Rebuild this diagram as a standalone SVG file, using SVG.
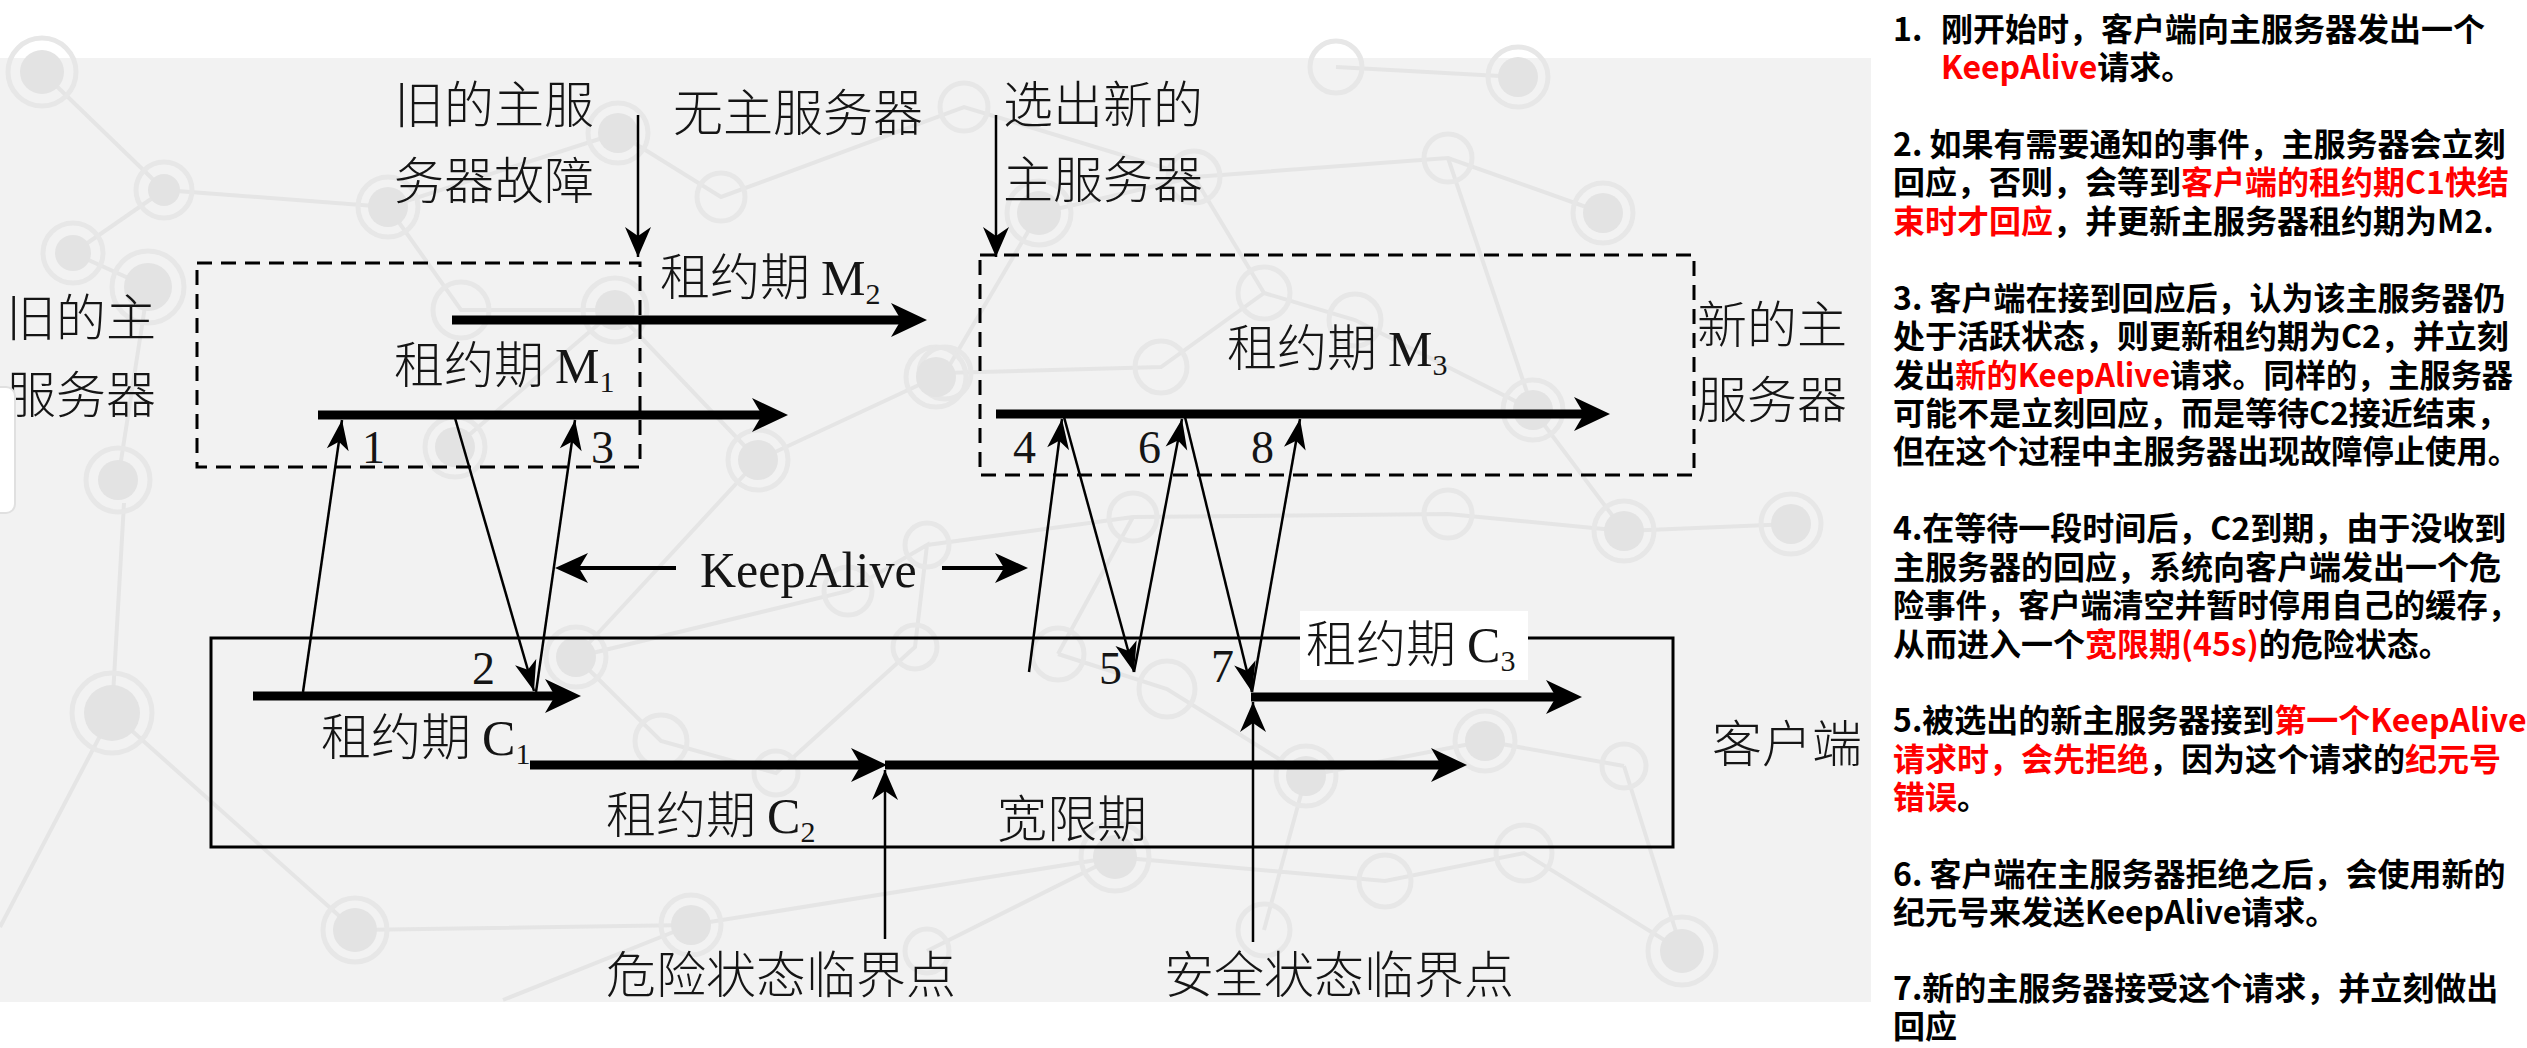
<svg xmlns="http://www.w3.org/2000/svg" width="2527" height="1048" viewBox="0 0 2527 1048">
<style>
.cjk{font-family:"Noto Sans CJK SC","Noto Sans CJK JP",sans-serif;font-size:50px;font-weight:300;fill:#151515}
.ser{font-family:"Liberation Serif",serif}
.sub{font-family:"Liberation Serif",serif;font-size:30px}
.num{font-family:"Liberation Serif",serif;font-size:46px;fill:#151515}
.ka{font-family:"Liberation Serif",serif;font-size:50px;fill:#151515}
.note{font-family:"Noto Sans CJK SC",sans-serif;font-size:32px;font-weight:700;fill:#000}
.red{fill:#ff0000}
.thick{stroke:#000;stroke-width:9;fill:none}
.thin{stroke:#000;stroke-width:2.5;fill:none}
.med{stroke:#000;stroke-width:4;fill:none}
.dash{stroke:#000;stroke-width:3;fill:none;stroke-dasharray:15 9}
.solid{stroke:#000;stroke-width:3;fill:none}
.bgl{stroke:#e5e5e5;stroke-width:4;fill:none}
.bgr{stroke:#e7e7e7;stroke-width:5;fill:none}
.bgd{fill:#e3e3e3}
</style>
<defs>
<marker id="ahThick" viewBox="-12 -20 40 40" markerWidth="40" markerHeight="40" refX="0" refY="0" orient="auto" markerUnits="userSpaceOnUse"><path d="M26,0 L-10,-17 L0,0 L-10,17 Z" fill="#000"/></marker>
<marker id="ahMed" viewBox="-11 -17 37 34" markerWidth="37" markerHeight="34" refX="0" refY="0" orient="auto" markerUnits="userSpaceOnUse"><path d="M24,0 L-9,-15 L0,0 L-9,15 Z" fill="#000"/></marker>
<marker id="ahThin" viewBox="-32 -13 34 26" markerWidth="34" markerHeight="26" refX="0" refY="0" orient="auto" markerUnits="userSpaceOnUse"><path d="M0,0 L-30,-11 L-22,0 L-30,11 Z" fill="#000"/></marker>
<marker id="ahV" viewBox="-32 -15 34 30" markerWidth="34" markerHeight="30" refX="0" refY="0" orient="auto" markerUnits="userSpaceOnUse"><path d="M0,0 L-30,-13 L-21,0 L-30,13 Z" fill="#000"/></marker>
</defs>
<rect x="0" y="0" width="2527" height="1048" fill="#fff"/>
<rect x="0" y="58" width="1871" height="944" fill="#f2f2f2"/>
<g id="background">
<path class="bgl" d="M42,72 L164,190 L388,207 L618,133 L721,197 L964,107 L1194,177 L1448,158 L1603,213 M1336,67 L1518,77 M164,190 L73,253 L148,287 L118,480 M388,207 L461,310 L615,310 L758,460 L936,377 M455,447 L615,310 M1194,177 L1039,213 L945,373 L1161,367 L1264,293 L1194,177 M1264,293 L1355,320 L1533,410 L1448,158 M124,503 L112,713 L0,927 M112,713 L355,930 L691,925 L1115,857 L1385,881 L1524,853 L1682,951 M576,657 L661,741 L776,773 L915,647 L927,545 L848,591 L576,657 M927,545 L1133,517 L1448,514 L1624,531 L1791,524 M1058,654 L1167,689 L1306,776 L1485,741 L1624,766 M1133,517 L1058,654 M1264,930 L1306,776 M1624,766 L1682,951 M927,951 L1115,857 M503,1000 L691,925 M758,460 L576,657 M1533,410 L1624,531"/>
<g class="bgr">
<circle cx="42" cy="72" r="34"/><circle cx="164" cy="190" r="28"/><circle cx="73" cy="253" r="30"/><circle cx="148" cy="287" r="36"/><circle cx="388" cy="207" r="30"/><circle cx="618" cy="133" r="30"/><circle cx="721" cy="197" r="24"/><circle cx="615" cy="310" r="32"/><circle cx="461" cy="310" r="28"/><circle cx="758" cy="460" r="30"/><circle cx="936" cy="377" r="30"/><circle cx="118" cy="480" r="32"/><circle cx="455" cy="447" r="30"/><circle cx="964" cy="107" r="24"/><circle cx="1336" cy="67" r="26"/><circle cx="1518" cy="77" r="30"/><circle cx="1194" cy="177" r="26"/><circle cx="1448" cy="158" r="24"/><circle cx="1603" cy="213" r="30"/><circle cx="1039" cy="213" r="32"/><circle cx="1264" cy="293" r="26"/><circle cx="945" cy="373" r="26"/><circle cx="1161" cy="367" r="26"/><circle cx="1355" cy="320" r="26"/><circle cx="1533" cy="410" r="30"/><circle cx="112" cy="713" r="40"/><circle cx="576" cy="657" r="30"/><circle cx="661" cy="741" r="26"/><circle cx="776" cy="773" r="22"/><circle cx="915" cy="647" r="22"/><circle cx="927" cy="545" r="22"/><circle cx="848" cy="591" r="24"/><circle cx="355" cy="930" r="32"/><circle cx="691" cy="925" r="30"/><circle cx="1058" cy="654" r="26"/><circle cx="1167" cy="689" r="28"/><circle cx="1133" cy="517" r="24"/><circle cx="1448" cy="514" r="24"/><circle cx="1624" cy="531" r="30"/><circle cx="1791" cy="524" r="30"/><circle cx="1306" cy="776" r="30"/><circle cx="1485" cy="741" r="30"/><circle cx="1624" cy="766" r="22"/><circle cx="1115" cy="857" r="34"/><circle cx="1385" cy="881" r="26"/><circle cx="1524" cy="853" r="28"/><circle cx="1682" cy="951" r="34"/><circle cx="1264" cy="930" r="26"/><circle cx="927" cy="951" r="22"/>
</g>
<g class="bgd">
<circle cx="42" cy="72" r="22"/><circle cx="164" cy="190" r="16"/><circle cx="73" cy="253" r="18"/><circle cx="148" cy="287" r="24"/><circle cx="388" cy="207" r="20"/><circle cx="618" cy="133" r="20"/><circle cx="615" cy="310" r="20"/><circle cx="758" cy="460" r="20"/><circle cx="936" cy="377" r="20"/><circle cx="118" cy="480" r="20"/><circle cx="455" cy="447" r="20"/><circle cx="1518" cy="77" r="20"/><circle cx="1603" cy="213" r="20"/><circle cx="1039" cy="213" r="22"/><circle cx="1533" cy="410" r="20"/><circle cx="112" cy="713" r="28"/><circle cx="576" cy="657" r="20"/><circle cx="355" cy="930" r="22"/><circle cx="691" cy="925" r="20"/><circle cx="1624" cy="531" r="20"/><circle cx="1791" cy="524" r="20"/><circle cx="1306" cy="776" r="20"/><circle cx="1485" cy="741" r="20"/><circle cx="1115" cy="857" r="22"/><circle cx="1682" cy="951" r="22"/>
</g>
</g>

<g id="old-master">
<rect class="dash" x="197" y="263" width="443" height="204"/>
<text class="cjk" x="6" y="336">旧的主</text>
<text class="cjk" x="6" y="413">服务器</text>
</g>
<rect x="-10" y="387" width="25" height="126" rx="9" fill="#fff" stroke="#e0e0e0" stroke-width="2"/>
<g id="old-master-fail">
<text class="cjk" x="394" y="123">旧的主服</text>
<text class="cjk" x="394" y="199">务器故障</text>
</g>
<g id="no-master"><text class="cjk" x="673" y="131">无主服务器</text></g>
<g id="elect-new">
<text class="cjk" x="1003" y="123">选出新的</text>
<text class="cjk" x="1003" y="198">主服务器</text>
</g>
<g id="new-master">
<rect class="dash" x="980" y="255" width="714" height="220"/>
<text class="cjk" x="1697" y="343">新的主</text>
<text class="cjk" x="1697" y="418">服务器</text>
</g>
<g id="client">
<rect class="solid" x="211" y="638" width="1462" height="209"/>
<text class="cjk" x="1712" y="762">客户端</text>
</g>
<g id="lease-m1"><text class="cjk" x="394" y="383">租约期 <tspan class="ser">M</tspan><tspan class="sub" dy="9">1</tspan></text></g>
<g id="lease-m2"><text class="cjk" x="660" y="295">租约期 <tspan class="ser">M</tspan><tspan class="sub" dy="9">2</tspan></text></g>
<g id="lease-m3"><text class="cjk" x="1227" y="366">租约期 <tspan class="ser">M</tspan><tspan class="sub" dy="9">3</tspan></text></g>
<g id="lease-c1"><text class="cjk" x="321" y="755">租约期 <tspan class="ser">C</tspan><tspan class="sub" dy="9">1</tspan></text></g>
<g id="lease-c2"><text class="cjk" x="606" y="833">租约期 <tspan class="ser">C</tspan><tspan class="sub" dy="9">2</tspan></text></g>
<g id="lease-c3">
<rect x="1300" y="611" width="228" height="69" fill="#fff"/>
<text class="cjk" x="1306" y="662">租约期 <tspan class="ser">C</tspan><tspan class="sub" dy="9">3</tspan></text>
</g>
<g id="grace"><text class="cjk" x="997" y="837">宽限期</text></g>
<g id="danger-point"><text class="cjk" x="606" y="993">危险状态临界点</text></g>
<g id="safe-point"><text class="cjk" x="1164" y="993">安全状态临界点</text></g>
<g id="keepalive-label"><text class="ka" x="700" y="587">KeepAlive</text></g>
<g id="step-numbers">
<text class="num" x="362" y="463">1</text>
<text class="num" x="591" y="463">3</text>
<text class="num" x="472" y="684">2</text>
<text class="num" x="1013" y="463">4</text>
<text class="num" x="1138" y="463">6</text>
<text class="num" x="1251" y="463">8</text>
<text class="num" x="1099" y="684">5</text>
<text class="num" x="1211" y="682">7</text>
</g>

<g id="connectors">
<line class="thick" x1="452" y1="320" x2="901" y2="320" marker-end="url(#ahThick)"/>
<line class="thick" x1="318" y1="415" x2="762" y2="415" marker-end="url(#ahThick)"/>
<line class="thick" x1="996" y1="414" x2="1584" y2="414" marker-end="url(#ahThick)"/>
<line class="thick" x1="253" y1="696" x2="555" y2="696" marker-end="url(#ahThick)"/>
<line class="thick" x1="885" y1="765" x2="1441" y2="765" marker-end="url(#ahThick)"/>
<line class="thick" x1="530" y1="765" x2="861" y2="765" marker-end="url(#ahThick)"/>
<line class="thick" x1="1251" y1="697" x2="1556" y2="697" marker-end="url(#ahThick)"/>
<line class="thin" x1="638" y1="115" x2="638" y2="257" marker-end="url(#ahV)"/>
<line class="thin" x1="996" y1="115" x2="996" y2="257" marker-end="url(#ahV)"/>
<line class="thin" x1="885" y1="939" x2="885" y2="770" marker-end="url(#ahV)"/>
<line class="thin" x1="1253" y1="942" x2="1253" y2="702" marker-end="url(#ahV)"/>
<line class="thin" x1="303" y1="692" x2="342" y2="420" marker-end="url(#ahThin)"/>
<line class="thin" x1="455" y1="418" x2="534" y2="691" marker-end="url(#ahThin)"/>
<line class="thin" x1="536" y1="692" x2="575" y2="420" marker-end="url(#ahThin)"/>
<line class="thin" x1="1029" y1="672" x2="1062" y2="419" marker-end="url(#ahThin)"/>
<line class="thin" x1="1064" y1="417" x2="1134" y2="672" marker-end="url(#ahThin)"/>
<line class="thin" x1="1134" y1="672" x2="1182" y2="419" marker-end="url(#ahThin)"/>
<line class="thin" x1="1185" y1="417" x2="1252" y2="692" marker-end="url(#ahThin)"/>
<line class="thin" x1="1252" y1="692" x2="1300" y2="419" marker-end="url(#ahThin)"/>
<line class="med" x1="676" y1="568" x2="579" y2="568" marker-end="url(#ahMed)"/>
<line class="med" x1="942" y1="568" x2="1004" y2="568" marker-end="url(#ahMed)"/>
</g>

<g id="notes">
<text class="note" x="1893" y="40.5">1.<tspan x="1941">刚开始时，客户端向主服务器发出一个</tspan></text>
<text class="note" x="1941" y="79"><tspan class="red">KeepAlive</tspan>请求。</text>
<text class="note" x="1893" y="156">2. 如果有需要通知的事件，主服务器会立刻</text>
<text class="note" x="1893" y="194">回应，否则，会等到<tspan class="red">客户端的租约期C1快结</tspan></text>
<text class="note" x="1893" y="233"><tspan class="red">束时才回应</tspan>，并更新主服务器租约期为M2.</text>
<text class="note" x="1893" y="309.5">3. 客户端在接到回应后，认为该主服务器仍</text>
<text class="note" x="1893" y="348">处于活跃状态，则更新租约期为C2，并立刻</text>
<text class="note" x="1893" y="386.5" textLength="620" lengthAdjust="spacingAndGlyphs">发出<tspan class="red">新的KeepAlive</tspan>请求。同样的，主服务器</text>
<text class="note" x="1893" y="425">可能不是立刻回应，而是等待C2接近结束，</text>
<text class="note" x="1893" y="463" textLength="626" lengthAdjust="spacingAndGlyphs">但在这个过程中主服务器出现故障停止使用。</text>
<text class="note" x="1893" y="540">4.在等待一段时间后，C2到期，由于没收到</text>
<text class="note" x="1893" y="578.5">主服务器的回应，系统向客户端发出一个危</text>
<text class="note" x="1893" y="617" textLength="626" lengthAdjust="spacingAndGlyphs">险事件，客户端清空并暂时停用自己的缓存，</text>
<text class="note" x="1893" y="655.5">从而进入一个<tspan class="red">宽限期(45s)</tspan>的危险状态。</text>
<text class="note" x="1893" y="732">5.被选出的新主服务器接到<tspan class="red">第一个KeepAlive</tspan></text>
<text class="note" x="1893" y="770.5"><tspan class="red">请求时，会先拒绝</tspan>，因为这个请求的<tspan class="red">纪元号</tspan></text>
<text class="note" x="1893" y="809"><tspan class="red">错误</tspan>。</text>
<text class="note" x="1893" y="886">6. 客户端在主服务器拒绝之后，会使用新的</text>
<text class="note" x="1893" y="924">纪元号来发送KeepAlive请求。</text>
<text class="note" x="1893" y="1000">7.新的主服务器接受这个请求，并立刻做出</text>
<text class="note" x="1893" y="1038">回应</text>
</g>
</svg>
